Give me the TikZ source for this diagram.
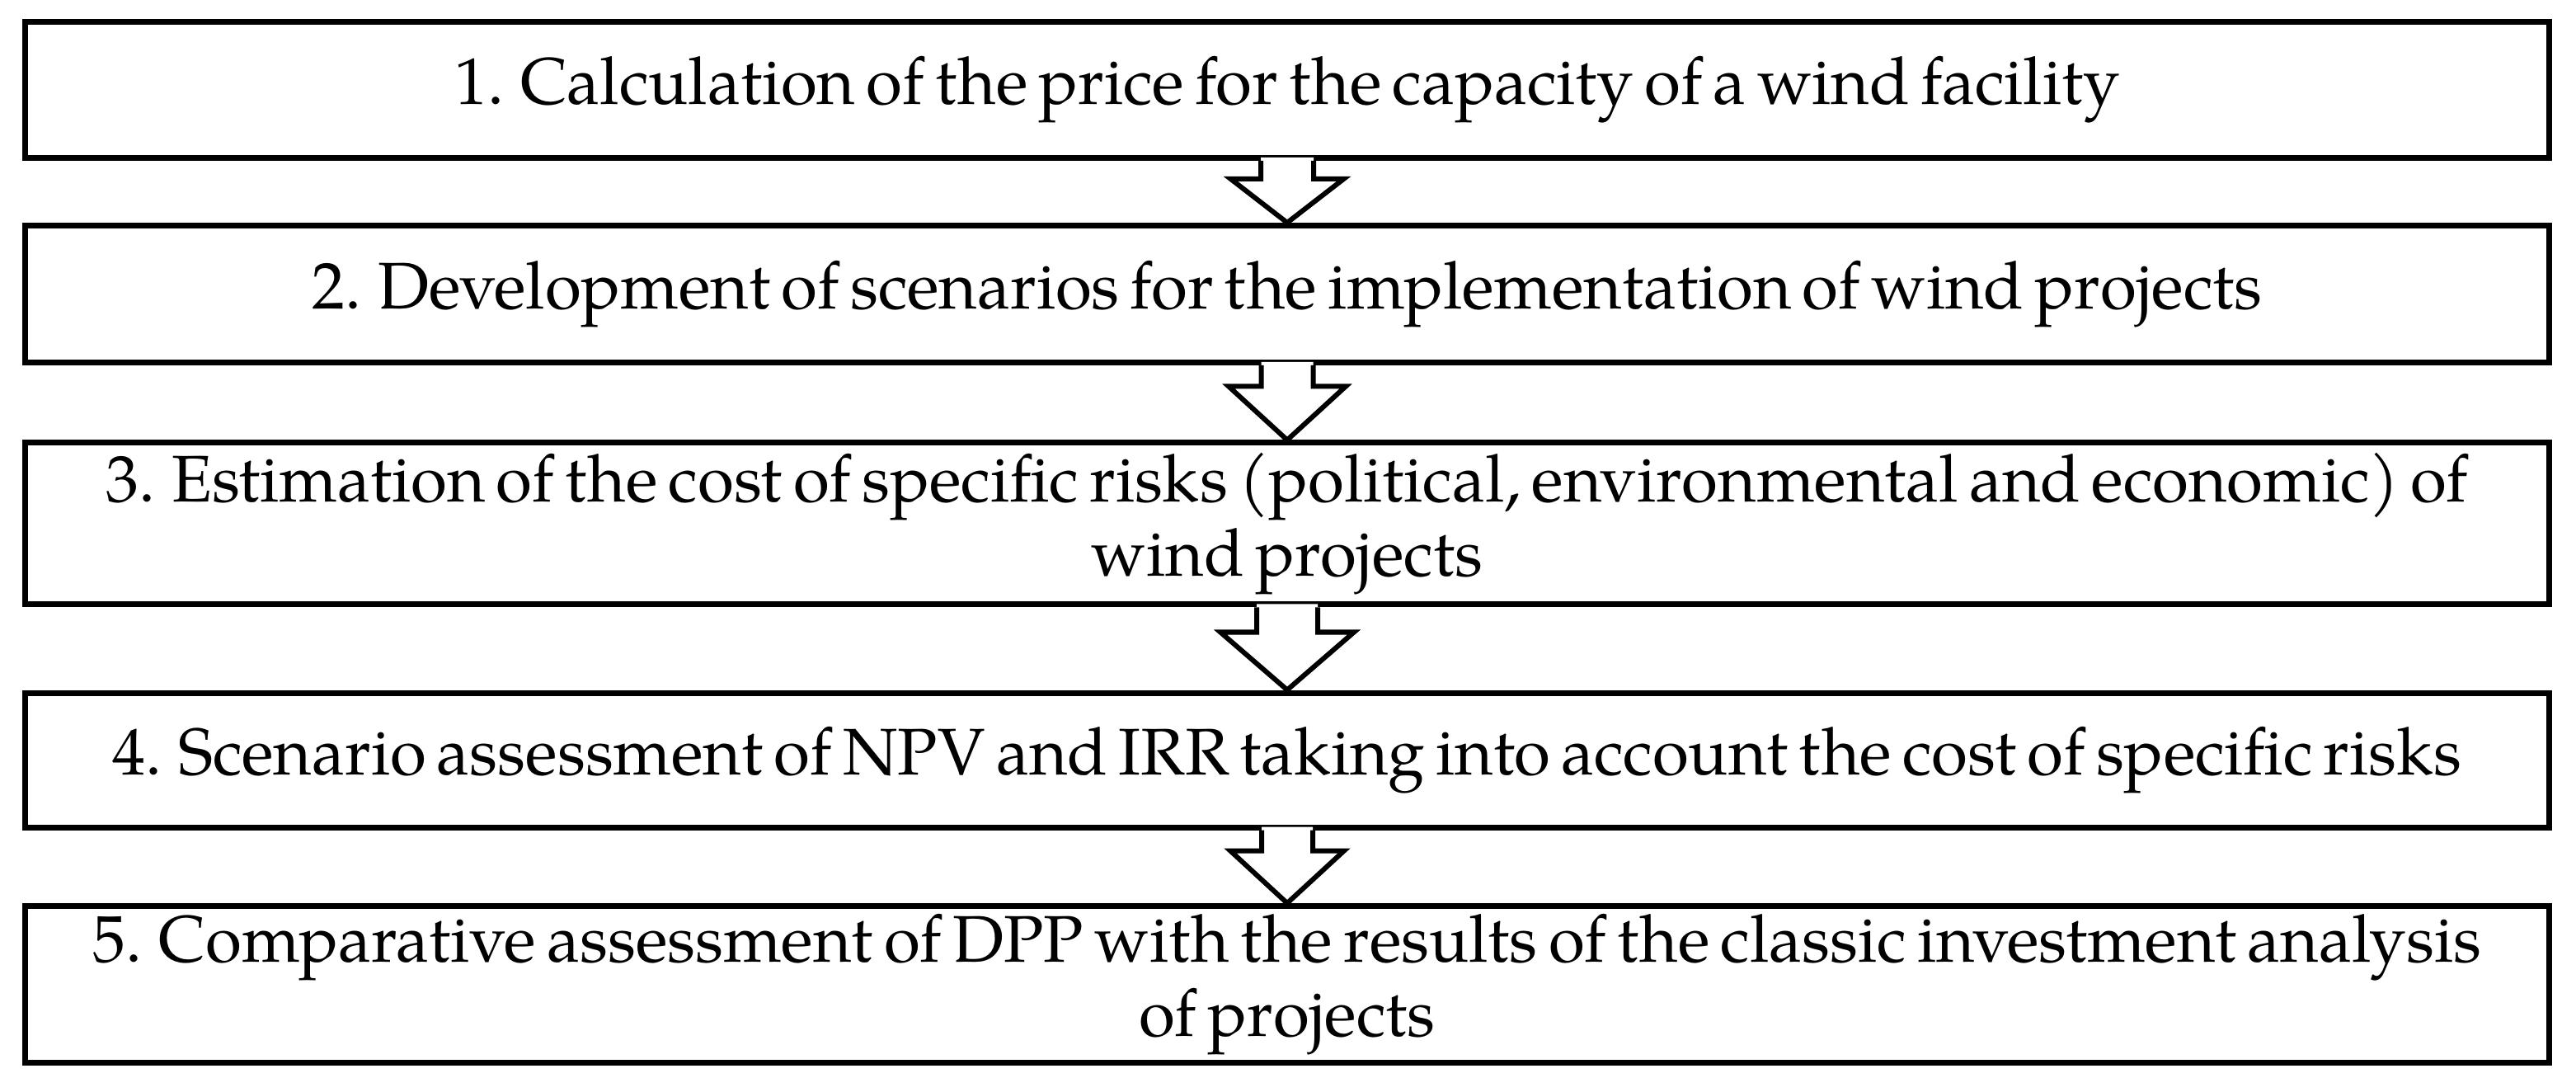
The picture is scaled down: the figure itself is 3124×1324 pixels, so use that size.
\documentclass[tikz,border=0pt]{standalone}
\usepackage{fontspec}
\setmainfont[WordSpace=0.66]{TeX Gyre Pagella}
\usetikzlibrary{calc}
\newcommand{\flowarr}[5]{%
  \path[fill=white] ($(#1.south)+(-#3,-4)$) -- ($(#1.south)+(-#3,#4)$) -- ($(#1.south)+(-#5,#4)$) -- (#2.north) -- ($(#1.south)+(#5,#4)$) -- ($(#1.south)+(#3,#4)$) -- ($(#1.south)+(#3,-4)$) -- cycle;
  \draw[flowarrow] ($(#1.south)+(-#3,0)$) -- ($(#1.south)+(-#3,#4)$) -- ($(#1.south)+(-#5,#4)$) -- (#2.north) -- ($(#1.south)+(#5,#4)$) -- ($(#1.south)+(#3,#4)$) -- ($(#1.south)+(#3,0)$);
}
\begin{document}
\begin{tikzpicture}[x=0.25pt,y=-0.25pt,
  stepbox/.style={draw=black, line width=1.75pt, minimum width=765.25pt, inner sep=0pt, align=center, font=\fontsize{20}{22.5}\selectfont},
  flowarrow/.style={draw=black, line width=1.5pt, line join=miter}]
\useasboundingbox[fill=white] (0,0) rectangle (3124,1324);
\node[stepbox, minimum height=41.25pt] (b1) at (1561,109) {1. Calculation of the price for the capacity of a wind facility};
\node[stepbox, minimum height=41.5pt] (b2) at (1561,356.5) {2. Development of scenarios for the implementation of wind projects};
\node[stepbox, minimum height=49pt] (b3) at (1561,635) {3. Estimation of the cost of specific risks (political, environmental and economic) of\\wind projects};
\node[stepbox, minimum height=40.75pt] (b4) at (1561,921.5) {4. Scenario assessment of NPV and IRR taking into account the cost of specific risks};
\node[stepbox, minimum height=47.6pt] (b5) at (1561,1193.75) {5. Comparative assessment of DPP with the results of the classic investment analysis\\of projects};
\flowarr{b1}{b2}{32}{22}{68.5}
\flowarr{b2}{b3}{31.5}{25.5}{71}
\flowarr{b3}{b4}{37}{30}{81}
\flowarr{b4}{b5}{31}{25}{69}
\end{tikzpicture}
\end{document}
